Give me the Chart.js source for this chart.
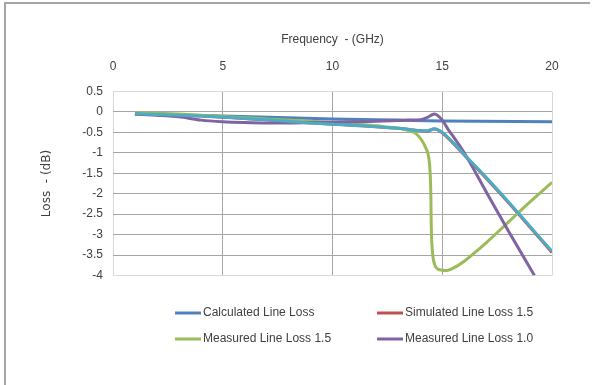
<!DOCTYPE html>
<html lang="en">
<head>
    <meta charset="UTF-8">
    <script src="https://cdn.jsdelivr.net/npm/chart.js"></script>
    <title>Line Loss</title>
    <style>
        body { margin: 0; background: #ffffff; }
        .caixa { position: relative; width: 597px; height: 385px; }
    </style>
</head>
<body>
    <div class="caixa"><canvas id="grafico"></canvas></div>

<script>
    // dados (GHz / dB)
    var freqCalc = [1, 5, 10, 13, 15, 20];
    var lossCalc = [-0.05, -0.1, -0.17, -0.2, -0.22, -0.24];

    var freqSim = [1, 2, 3, 4, 5, 6, 7, 8, 9, 10, 11, 12, 13, 13.5, 14, 14.3, 14.65, 15, 15.5, 16, 17, 18, 19, 20];
    var lossSim15 = [-0.05, -0.06, -0.08, -0.1, -0.13, -0.16, -0.19, -0.23, -0.27, -0.3, -0.33, -0.36, -0.4, -0.43, -0.46, -0.47, -0.42, -0.51, -0.77, -1.05, -1.62, -2.21, -2.82, -3.44];
    var lossSim10 = [-0.05, -0.06, -0.08, -0.1, -0.13, -0.16, -0.19, -0.23, -0.27, -0.3, -0.33, -0.36, -0.4, -0.43, -0.46, -0.46, -0.41, -0.5, -0.75, -1.04, -1.6, -2.19, -2.8, -3.41];

    var freqMeas15 = [1, 2, 3, 4, 5, 6, 7, 8, 9, 10, 11, 12, 12.5, 13, 13.5, 13.8, 14.05, 14.25, 14.38, 14.45, 14.48, 14.5, 14.55, 14.66, 14.8, 15, 15.2, 15.5, 16, 17, 18, 19, 20];
    var lossMeas15 = [-0.02, -0.03, -0.05, -0.08, -0.11, -0.14, -0.17, -0.2, -0.23, -0.26, -0.3, -0.34, -0.37, -0.4, -0.46, -0.53, -0.68, -0.88, -1.1, -1.5, -2.0, -2.8, -3.4, -3.74, -3.84, -3.87, -3.88, -3.82, -3.65, -3.2, -2.7, -2.2, -1.72];

    var freqMeas10 = [1, 2, 3, 4, 5, 6, 7, 8, 9, 10, 11, 12, 13, 13.5, 14, 14.3, 14.65, 15, 15.27, 15.5, 16, 17, 18, 19.2];
    var lossMeas10 = [-0.05, -0.08, -0.12, -0.2, -0.24, -0.26, -0.27, -0.27, -0.26, -0.25, -0.24, -0.23, -0.21, -0.2, -0.19, -0.14, -0.05, -0.2, -0.43, -0.6, -1.0, -1.95, -2.9, -4.0];

    var xTicks = [0, 5, 10, 15, 20];

    function pontos(xs, ys) {
        return xs.map(function (x, i) { return { x: x, y: ys[i] }; });
    }

    function serie(nome, xs, ys, cor, ordem, naLegenda) {
        return {
            label: nome,
            data: pontos(xs, ys),
            borderColor: cor,
            backgroundColor: cor,
            borderWidth: 3,
            pointRadius: 0,
            showLine: true,
            cubicInterpolationMode: 'monotone',
            order: ordem,
            naLegenda: naLegenda
        };
    }

    var fonteExcel = "'Liberation Sans', sans-serif";

    // moldura e legenda em duas colunas
    var moldura = {
        id: 'moldura',
        beforeDraw: function (chart) {
            var ctx = chart.ctx;
            ctx.save();
            ctx.strokeStyle = '#a6a6a6';
            ctx.lineWidth = 2;
            ctx.beginPath();
            ctx.moveTo(5, 385);
            ctx.lineTo(5, 3);
            ctx.lineTo(590, 3);
            ctx.stroke();
            ctx.restore();
        },
        afterDraw: function (chart) {
            var ctx = chart.ctx;
            var itens = chart.data.datasets.filter(function (d) { return d.naLegenda; });
            var colX = [175, 377];
            var linY = [313, 339];
            ctx.save();
            ctx.font = '12px ' + fonteExcel;
            ctx.textBaseline = 'middle';
            ctx.fillStyle = '#404040';
            itens.forEach(function (d, i) {
                var x = colX[i % 2];
                var y = linY[Math.floor(i / 2)];
                ctx.strokeStyle = d.borderColor;
                ctx.lineWidth = 3;
                ctx.beginPath();
                ctx.moveTo(x, y);
                ctx.lineTo(x + 26, y);
                ctx.stroke();
                ctx.fillText(d.label, x + 28, y);
            });
            ctx.restore();
        }
    };

    var ctx = document.getElementById('grafico').getContext('2d');

    new Chart(ctx, {
        type: 'scatter',
        data: {
            datasets: [
                serie('Calculated Line Loss', freqCalc, lossCalc, '#4f81bd', 5, true),
                serie('Simulated Line Loss 1.5', freqSim, lossSim15, '#c0504d', 4, true),
                serie('Measured Line Loss 1.5', freqMeas15, lossMeas15, '#9bbb59', 3, true),
                serie('Measured Line Loss 1.0', freqMeas10, lossMeas10, '#8064a2', 2, true),
                serie('Simulated Line Loss 1.0', freqSim, lossSim10, '#4bacc6', 1, false)
            ]
        },
        options: {
            responsive: true,
            maintainAspectRatio: false,
            animation: false,
            layout: {
                padding: { top: 28, left: 0, right: 45, bottom: 109.5 }
            },
            plugins: {
                legend: { display: false },
                tooltip: { enabled: false }
            },
            scales: {
                x: {
                    type: 'linear',
                    position: 'top',
                    min: 0,
                    max: 20,
                    afterBuildTicks: function (scale) {
                        scale.ticks = xTicks.map(function (v) { return { value: v }; });
                    },
                    afterFit: function (scale) { scale.height = 63.5; },
                    ticks: {
                        padding: 18,
                        color: '#404040',
                        font: { family: fonteExcel, size: 12 }
                    },
                    grid: {
                        drawTicks: false,
                        color: function (c) {
                            return (c.tick && (c.tick.value === 0 || c.tick.value === 20)) ? '#d9d9d9' : '#a6a6a6';
                        }
                    },
                    border: { display: false },
                    title: {
                        display: true,
                        text: 'Frequency  - (GHz)',
                        color: '#404040',
                        padding: { top: 4, bottom: 0 },
                        font: { family: fonteExcel, size: 12 }
                    }
                },
                y: {
                    min: -4,
                    max: 0.5,
                    afterFit: function (scale) { scale.width = 113; },
                    ticks: {
                        stepSize: 0.5,
                        padding: 10,
                        color: '#404040',
                        font: { family: fonteExcel, size: 12 },
                        callback: function (v) { return String(Math.round(v * 10) / 10); }
                    },
                    grid: {
                        drawTicks: false,
                        color: function (c) {
                            return (c.tick && (c.tick.value === 0.5 || c.tick.value === -4)) ? '#d9d9d9' : '#a6a6a6';
                        }
                    },
                    border: { display: false },
                    title: {
                        display: true,
                        text: 'Loss  - (dB)',
                        color: '#404040',
                        padding: { top: 40, bottom: 0 },
                        font: { family: 'DejaVu Sans', size: 12 }
                    }
                }
            }
        },
        plugins: [moldura]
    });
</script>
</body>
</html>
